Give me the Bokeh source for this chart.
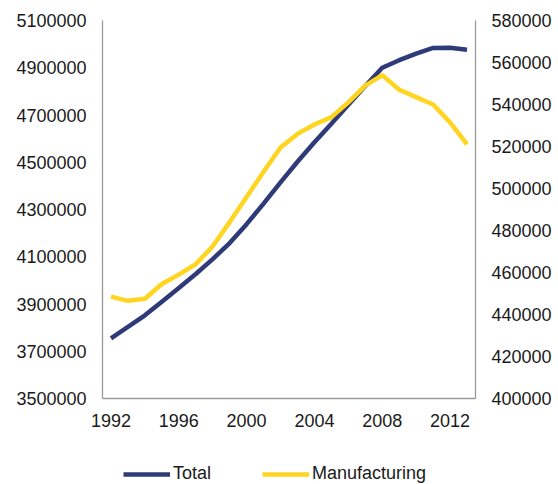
from bokeh.plotting import figure
from bokeh.layouts import column
from bokeh.models import (LinearAxis, Range1d, FixedTicker, BasicTickFormatter,
                          Legend, LegendItem)
from bokeh.embed import file_html
from bokeh.resources import INLINE

years = list(range(1992, 2014))
total = [3755000, 3803000, 3852000, 3910000, 3968000, 4027000, 4090000,
         4158000, 4238000, 4325000, 4415000, 4502000, 4585000, 4663000,
         4743000, 4823000, 4900000, 4932000, 4960000, 4984000, 4985000,
         4976000]
manufacturing = [448500, 446500, 447500, 454500, 459000, 464000, 472500,
                 484000, 496000, 508000, 519500, 526000, 530500, 534000,
                 541000, 549000, 554000, 547000, 543500, 540000, 531500,
                 521000]
series_names = ["Total", "Manufacturing"]
x_ticks = [1992, 1996, 2000, 2004, 2008, 2012]
left_ticks = [3500000, 3700000, 3900000, 4100000, 4300000, 4500000,
              4700000, 4900000, 5100000]
right_ticks = [400000, 420000, 440000, 460000, 480000, 500000, 520000,
               540000, 560000, 580000]

NAVY = "#2F3A78"
YELLOW = "#FFD51F"
AXIS = "#9A9A9A"
FONT = "Liberation Sans"
FS = "18px"

p = figure(width=558, height=440, output_backend="svg", toolbar_location=None,
           x_range=Range1d(1991.5, 2013.5), y_range=Range1d(3500000, 5100000),
           min_border_left=102, min_border_right=83, min_border_top=20,
           min_border_bottom=42)
p.outline_line_color = None
p.grid.visible = False
p.extra_y_ranges = {"mfg": Range1d(400000, 580000)}

p.line(years, total, line_color=NAVY, line_width=4.5)
p.line(years, manufacturing, line_color=YELLOW, line_width=4.5,
       y_range_name="mfg")

def style(ax):
    ax.axis_line_color = AXIS
    ax.axis_line_width = 1.3
    ax.major_tick_line_color = None
    ax.minor_tick_line_color = None
    ax.major_tick_out = 0
    ax.major_tick_in = 0
    ax.major_label_text_font = FONT
    ax.major_label_text_font_size = FS
    ax.major_label_text_color = "#1a1a1a"

xa = p.xaxis[0]
xa.ticker = FixedTicker(ticks=x_ticks)
style(xa)
xa.major_label_standoff = 15

ya = p.yaxis[0]
ya.ticker = FixedTicker(ticks=left_ticks)
ya.formatter = BasicTickFormatter(use_scientific=False)
style(ya)
ya.major_label_standoff = 16

ra = LinearAxis(y_range_name="mfg", ticker=FixedTicker(ticks=right_ticks),
                formatter=BasicTickFormatter(use_scientific=False))
style(ra)
ra.major_label_standoff = 16
p.add_layout(ra, "right")

# legend strip below the chart (its series lie outside its own view)
pl = figure(width=558, height=44, output_backend="svg", toolbar_location=None,
            x_range=Range1d(0, 1), y_range=Range1d(0, 1),
            min_border_left=102, min_border_right=83, min_border_top=0,
            min_border_bottom=0)
pl.outline_line_color = None
pl.grid.visible = False
pl.axis.visible = False
lt = pl.line(years, total, line_color=NAVY, line_width=4.5)
lm = pl.line(years, manufacturing, line_color=YELLOW, line_width=4.5)
legend = Legend(items=[LegendItem(label=series_names[0], renderers=[lt]),
                       LegendItem(label=series_names[1], renderers=[lm])],
                orientation="horizontal", location=(21, 0),
                glyph_width=47, glyph_height=20, label_standoff=3, spacing=51,
                padding=0, margin=0, border_line_color=None,
                background_fill_alpha=0,
                label_text_font=FONT, label_text_font_size=FS,
                label_text_color="#1a1a1a")
pl.add_layout(legend, "center")

layout = column(p, pl, spacing=0)
open("out.html", "w").write(file_html(layout, INLINE))
